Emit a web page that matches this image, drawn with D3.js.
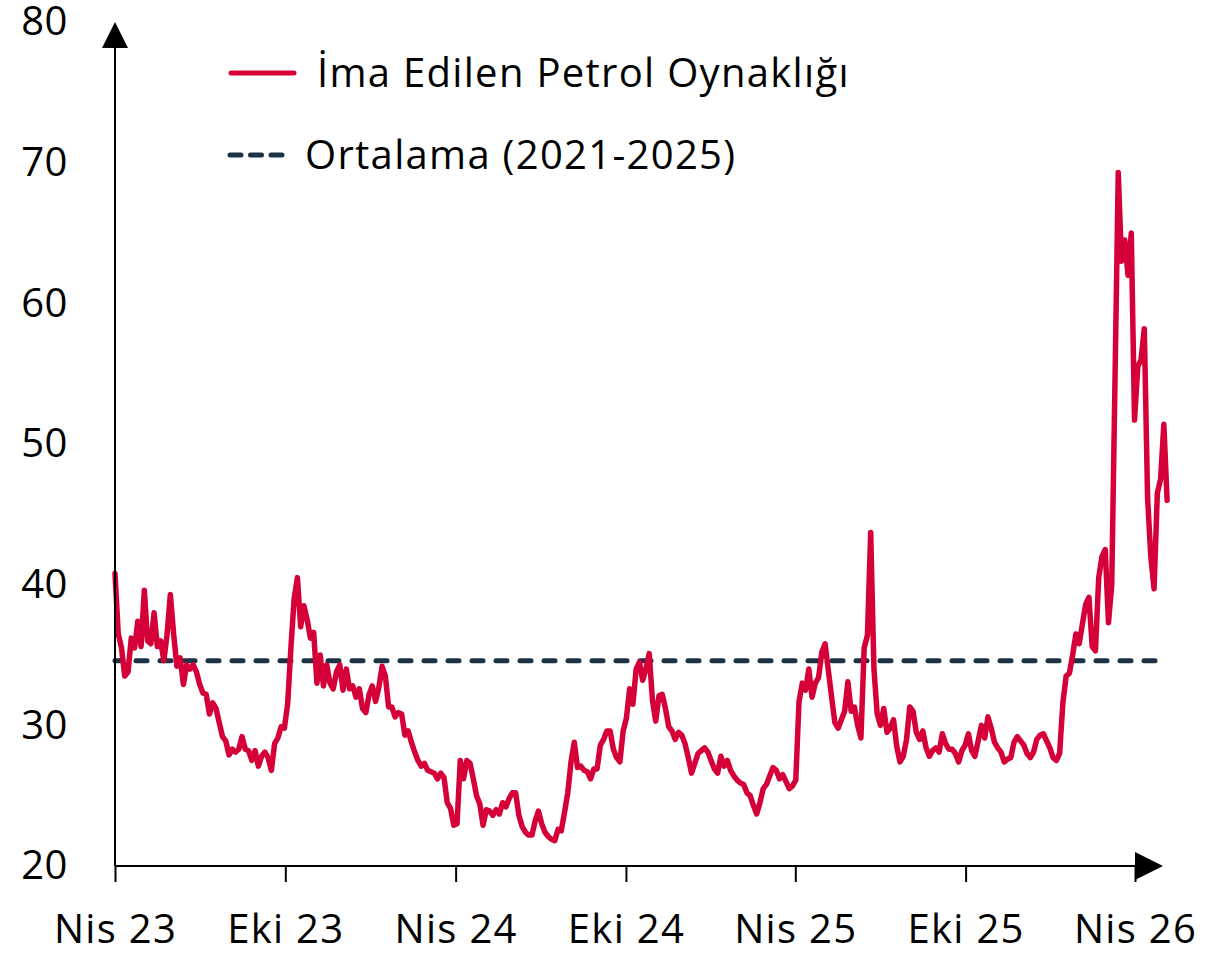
<!DOCTYPE html>
<html>
<head>
<meta charset="utf-8">
<script src="https://cdn.jsdelivr.net/npm/d3@7"></script>
<style>
  html, body { margin: 0; padding: 0; background: #ffffff; }
  svg { display: block; font-family: "Open Sans", "Noto Sans", sans-serif; }
</style>
</head>
<body>
<svg id="chart" width="1232" height="954"></svg>
<script>
// ---------------- DATA ----------------
const seriesName = "İma Edilen Petrol Oynaklığı";
const avgName = "Ortalama (2021-2025)";
const startDate = "2023-04-01";   // first observation
const stepDays = 3.5;             // twice-weekly observations
const volValues = [
  40.8, 36.5, 35.5, 33.5, 33.8, 36.2, 35.5, 37.4, 35.6, 39.6,
  36.0, 35.8, 38.0, 35.6, 36.0, 34.6, 36.5, 39.3, 36.5, 34.2,
  34.8, 32.9, 34.3, 34.0, 34.3, 33.8, 32.9, 32.3, 32.2, 30.8,
  31.6, 31.2, 30.2, 29.2, 28.9, 27.9, 28.3, 28.1, 28.3, 29.2,
  28.3, 28.2, 27.5, 28.2, 27.1, 27.8, 28.1, 27.7, 26.8, 28.7,
  29.1, 29.9, 29.8, 31.5, 35.5, 39.0, 40.5, 37.0, 38.5, 37.5,
  36.2, 36.6, 33.0, 35.0, 32.8, 34.3, 33.0, 32.6, 33.8, 34.3,
  32.5, 34.0, 32.6, 32.8, 32.0, 32.6, 31.2, 30.9, 32.2, 32.8,
  31.7, 32.7, 34.2, 33.5, 31.3, 31.3, 30.6, 30.9, 30.8, 29.3,
  29.6, 28.8, 28.1, 27.5, 27.1, 27.3, 26.8, 26.7, 26.6, 26.2,
  26.6, 26.3, 24.5, 24.1, 22.9, 23.0, 27.5, 26.2, 27.5, 27.3,
  26.2, 25.0, 24.4, 22.9, 24.0, 23.9, 23.6, 24.0, 23.7, 24.5,
  24.2, 24.8, 25.2, 25.2, 23.6, 22.8, 22.4, 22.2, 22.2, 23.2,
  23.9, 23.0, 22.4, 22.1, 21.9, 21.8, 22.6, 22.5, 23.8, 25.2,
  27.4, 28.8, 27.0, 27.1, 26.8, 26.7, 26.2, 26.9, 26.9, 28.6,
  29.0, 29.6, 29.6, 28.3, 27.7, 27.4, 29.6, 30.5, 32.6, 31.5,
  34.0, 34.5, 33.2, 34.0, 35.1, 31.8, 30.3, 32.1, 32.2, 31.2,
  29.9, 29.6, 29.0, 29.5, 29.3, 28.7, 27.7, 26.6, 27.3, 28.0,
  28.2, 28.4, 28.1, 27.5, 26.9, 26.6, 27.8, 27.1, 27.5, 26.8,
  26.4, 26.1, 25.9, 25.8, 25.2, 25.0, 24.3, 23.7, 24.5, 25.5,
  25.8, 26.4, 27.0, 26.8, 26.2, 26.5, 26.0, 25.5, 25.7, 26.1,
  31.7, 33.0, 32.5, 34.0, 32.0, 33.0, 33.4, 35.2, 35.8, 33.9,
  32.0, 30.2, 29.8, 30.4, 31.0, 33.1, 31.0, 31.3, 30.0, 29.1,
  35.5, 36.4, 43.7, 34.0, 30.8, 30.0, 31.2, 29.5, 29.8, 30.4,
  28.5, 27.4, 27.8, 29.0, 31.3, 31.0, 29.5, 29.0, 29.6, 28.4,
  27.8, 28.2, 28.4, 28.1, 29.4, 28.7, 28.3, 28.3, 28.0, 27.4,
  28.2, 28.6, 29.4, 28.2, 27.8, 28.9, 30.0, 29.1, 30.6, 29.8,
  28.8, 28.4, 28.1, 27.4, 27.6, 27.7, 28.8, 29.2, 28.9, 28.6,
  28.0, 27.7, 28.1, 29.0, 29.3, 29.4, 28.9, 28.4, 27.7, 27.5,
  28.0, 31.6, 33.5, 33.7, 35.0, 36.5, 35.8, 37.2, 38.6, 39.1,
  35.6, 35.3, 40.5, 42.0, 42.5, 37.3, 40.0, 54.5, 69.3, 63.0,
  64.5, 62.0, 65.0, 51.7, 55.5, 56.0, 58.2, 46.2, 42.0, 39.7,
  46.5, 47.5, 51.4, 46.0
];
const avgValue = 34.6;
const yTicks = [20, 30, 40, 50, 60, 70, 80];
const yDomain = [20, 80];
const xTickDates = ["2023-04-01", "2023-10-01", "2024-04-01", "2024-10-01", "2025-04-01", "2025-10-01", "2026-04-01"];
const xTickLabels = ["Nis 23", "Eki 23", "Nis 24", "Eki 24", "Nis 25", "Eki 25", "Nis 26"];

// ---------------- LAYOUT ----------------
const RED = "#d50037";
const NAVY = "#1e3246";
const FONT = 40;
const LS = "1.3px";
const svg = d3.select("#chart");
const parse = d3.timeParse("%Y-%m-%d");
const t0 = parse(startDate);
const data = volValues.map((v, i) => ({ date: d3.timeHour.offset(t0, Math.round(i * stepDays * 24)), value: v }));
const tickDates = xTickDates.map(parse);

const x = d3.scaleTime().domain([tickDates[0], tickDates[tickDates.length - 1]]).range([115, 1135]);
const y = d3.scaleLinear().domain(yDomain).range([866, 22]);

// average dashed line
const lastDate = data[data.length - 1].date;
svg.append("line")
  .attr("x1", x(tickDates[0])).attr("x2", x(lastDate) - 8)
  .attr("y1", y(avgValue)).attr("y2", y(avgValue))
  .attr("stroke", NAVY).attr("stroke-width", 5)
  .attr("stroke-linecap", "round")
  .attr("stroke-dasharray", "11 13")
  .attr("stroke-dashoffset", 3);

// main series
const line = d3.line().x(d => x(d.date)).y(d => y(d.value));
svg.append("path")
  .datum(data)
  .attr("d", line)
  .attr("fill", "none")
  .attr("stroke", RED)
  .attr("stroke-width", 5.5)
  .attr("stroke-linejoin", "round")
  .attr("stroke-linecap", "round");

// x axis
const xAxis = d3.axisBottom(x)
  .tickValues(tickDates)
  .tickFormat((d, i) => xTickLabels[i])
  .tickSize(16)
  .tickPadding(33);
const gx = svg.append("g").attr("transform", `translate(0,${y(yDomain[0])})`).call(xAxis);
gx.select(".domain").remove();
gx.selectAll(".tick line").attr("stroke", "#000").attr("stroke-width", 2);
gx.selectAll(".tick text").attr("font-size", FONT).attr("fill", "#000")
  .attr("font-family", "Open Sans").attr("letter-spacing", LS);

// y axis
const yAxis = d3.axisLeft(y).tickValues(yTicks).tickSize(0).tickPadding(47).tickFormat(d3.format("d"));
const gy = svg.append("g").attr("transform", `translate(${x(tickDates[0])},0)`).call(yAxis);
gy.select(".domain").remove();
gy.selectAll(".tick text").attr("font-size", FONT).attr("fill", "#000")
  .attr("font-family", "Open Sans").attr("letter-spacing", "0.5px");

// axis lines with arrows
const x0 = x(tickDates[0]), y0 = y(yDomain[0]);
const xEnd = x(tickDates[tickDates.length - 1]);
const yTop = y(yDomain[1]);
svg.append("line").attr("x1", x0).attr("x2", xEnd).attr("y1", y0).attr("y2", y0)
  .attr("stroke", "#000").attr("stroke-width", 2);
svg.append("path")
  .attr("d", `M${xEnd},${y0 - 14}L${xEnd + 28},${y0}L${xEnd},${y0 + 14}Z`)
  .attr("fill", "#000");
svg.append("line").attr("x1", x0).attr("x2", x0).attr("y1", yTop + 26).attr("y2", y0)
  .attr("stroke", "#000").attr("stroke-width", 2);
svg.append("path")
  .attr("d", `M${x0 - 13},${yTop + 26}L${x0},${yTop}L${x0 + 13},${yTop + 26}Z`)
  .attr("fill", "#000");

// legend
const lg = svg.append("g");
lg.append("line").attr("x1", 231).attr("x2", 294).attr("y1", 73).attr("y2", 73)
  .attr("stroke", RED).attr("stroke-width", 5).attr("stroke-linecap", "round");
lg.append("text").attr("x", 317).attr("y", 73).attr("dy", "0.36em")
  .attr("font-size", FONT).attr("fill", "#000").attr("letter-spacing", LS).text(seriesName);
lg.append("line").attr("x1", 230).attr("x2", 287).attr("y1", 155).attr("y2", 155)
  .attr("stroke", NAVY).attr("stroke-width", 5).attr("stroke-linecap", "round")
  .attr("stroke-dasharray", "11 9.5");
lg.append("text").attr("x", 305).attr("y", 155).attr("dy", "0.36em")
  .attr("font-size", FONT).attr("fill", "#000").attr("letter-spacing", LS).text(avgName);
</script>
</body>
</html>
